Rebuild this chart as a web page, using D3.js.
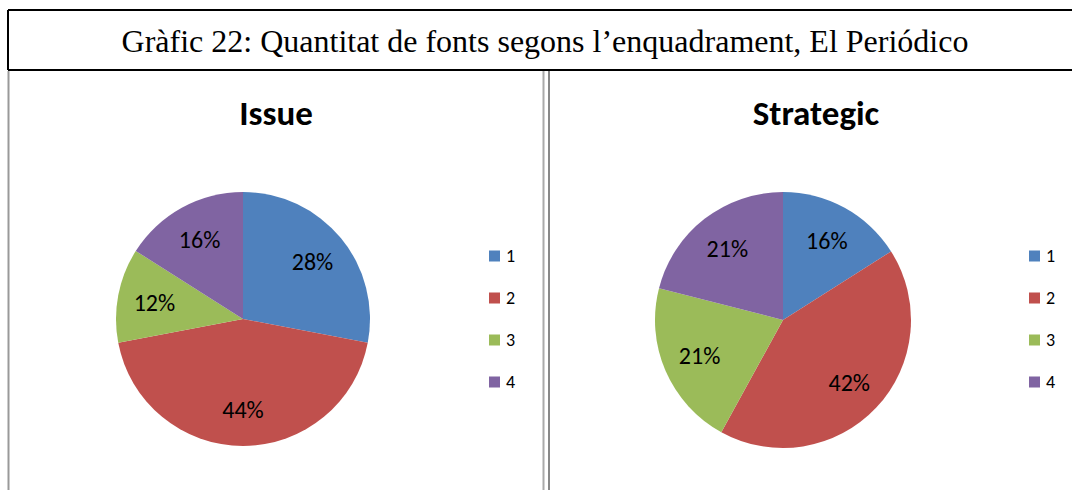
<!DOCTYPE html>
<html>
<head>
<meta charset="utf-8">
<script src="https://cdn.jsdelivr.net/npm/d3@7"></script>
<style>
  body { margin: 0; background: #fff; }
  svg { display: block; }
</style>
</head>
<body>
<svg id="chart" width="1072" height="490"></svg>
<script>
// data
var mainTitle = "Gràfic 22: Quantitat de fonts segons l’enquadrament, El Periódico";
var categories = ["1", "2", "3", "4"];
var issueValues = [28, 44, 12, 16];
var strategicValues = [16, 42, 21, 21];
var colors = ["#4F81BD", "#C0504D", "#9BBB59", "#8064A2"];

var svg = d3.select("#chart");

// table frame
svg.append("line").attr("x1", 8).attr("x2", 1072).attr("y1", 10).attr("y2", 10)
    .attr("stroke", "#000").attr("stroke-width", 2);
svg.append("line").attr("x1", 8).attr("x2", 1072).attr("y1", 70).attr("y2", 70)
    .attr("stroke", "#000").attr("stroke-width", 2);
svg.append("line").attr("x1", 8).attr("x2", 8).attr("y1", 10).attr("y2", 70)
    .attr("stroke", "#000").attr("stroke-width", 2);
svg.append("line").attr("x1", 8.5).attr("x2", 8.5).attr("y1", 71).attr("y2", 490)
    .attr("stroke", "#999").attr("stroke-width", 2);
svg.append("line").attr("x1", 543.5).attr("x2", 543.5).attr("y1", 71).attr("y2", 490)
    .attr("stroke", "#aaa").attr("stroke-width", 2);
svg.append("line").attr("x1", 549).attr("x2", 549).attr("y1", 71).attr("y2", 490)
    .attr("stroke", "#888").attr("stroke-width", 2);

svg.append("text")
    .attr("x", 545).attr("y", 52)
    .attr("text-anchor", "middle")
    .style("font-family", "'Liberation Serif', 'Times New Roman', serif")
    .style("font-size", "32px")
    .text(mainTitle);

function draw_pie(values, name, cx, cy, r, titleX, legendX) {

    var pie = d3.pie().sort(null).value(function(d) { return d; });
    var arc = d3.arc().innerRadius(0).outerRadius(r);
    var labelArc = d3.arc().innerRadius(r * 0.71).outerRadius(r * 0.71);
    var total = d3.sum(values);

    var g = svg.append("g").attr("transform", "translate(" + cx + "," + cy + ")");
    var arcs = pie(values);

    g.selectAll("path")
        .data(arcs)
        .enter().append("path")
        .attr("d", arc)
        .attr("fill", function(d, i) { return colors[i]; });

    g.selectAll("text")
        .data(arcs)
        .enter().append("text")
        .attr("transform", function(d) { return "translate(" + labelArc.centroid(d) + ")"; })
        .attr("text-anchor", "middle")
        .attr("dy", "0.35em")
        .style("font-family", "Carlito, Lato, 'Open Sans', sans-serif")
        .style("font-size", "24px")
        .attr("fill", "#000")
        .text(function(d) { return Math.round(d.value / total * 100) + "%"; });

    svg.append("text")
        .attr("x", titleX).attr("y", 125)
        .attr("text-anchor", "middle")
        .style("font-family", "Carlito, Lato, 'Open Sans', sans-serif")
        .style("font-weight", "bold")
        .style("font-size", "35px")
        .text(name);

    var y = d3.scalePoint().domain(categories).range([256, 382]);

    var leg = svg.append("g");
    leg.selectAll("rect")
        .data(categories)
        .enter().append("rect")
        .attr("x", legendX).attr("y", function(d) { return y(d) - 5.5; })
        .attr("width", 11).attr("height", 11)
        .attr("fill", function(d, i) { return colors[i]; });

    leg.selectAll("text")
        .data(categories)
        .enter().append("text")
        .attr("x", legendX + 17).attr("y", function(d) { return y(d); })
        .attr("dy", "0.36em")
        .style("font-family", "Carlito, Lato, 'Open Sans', sans-serif")
        .style("font-size", "18px")
        .text(function(d) { return d; });
}

draw_pie(issueValues, "Issue", 243, 319, 127, 276, 489);
draw_pie(strategicValues, "Strategic", 783, 320, 128, 816, 1029);
</script>
</body>
</html>
